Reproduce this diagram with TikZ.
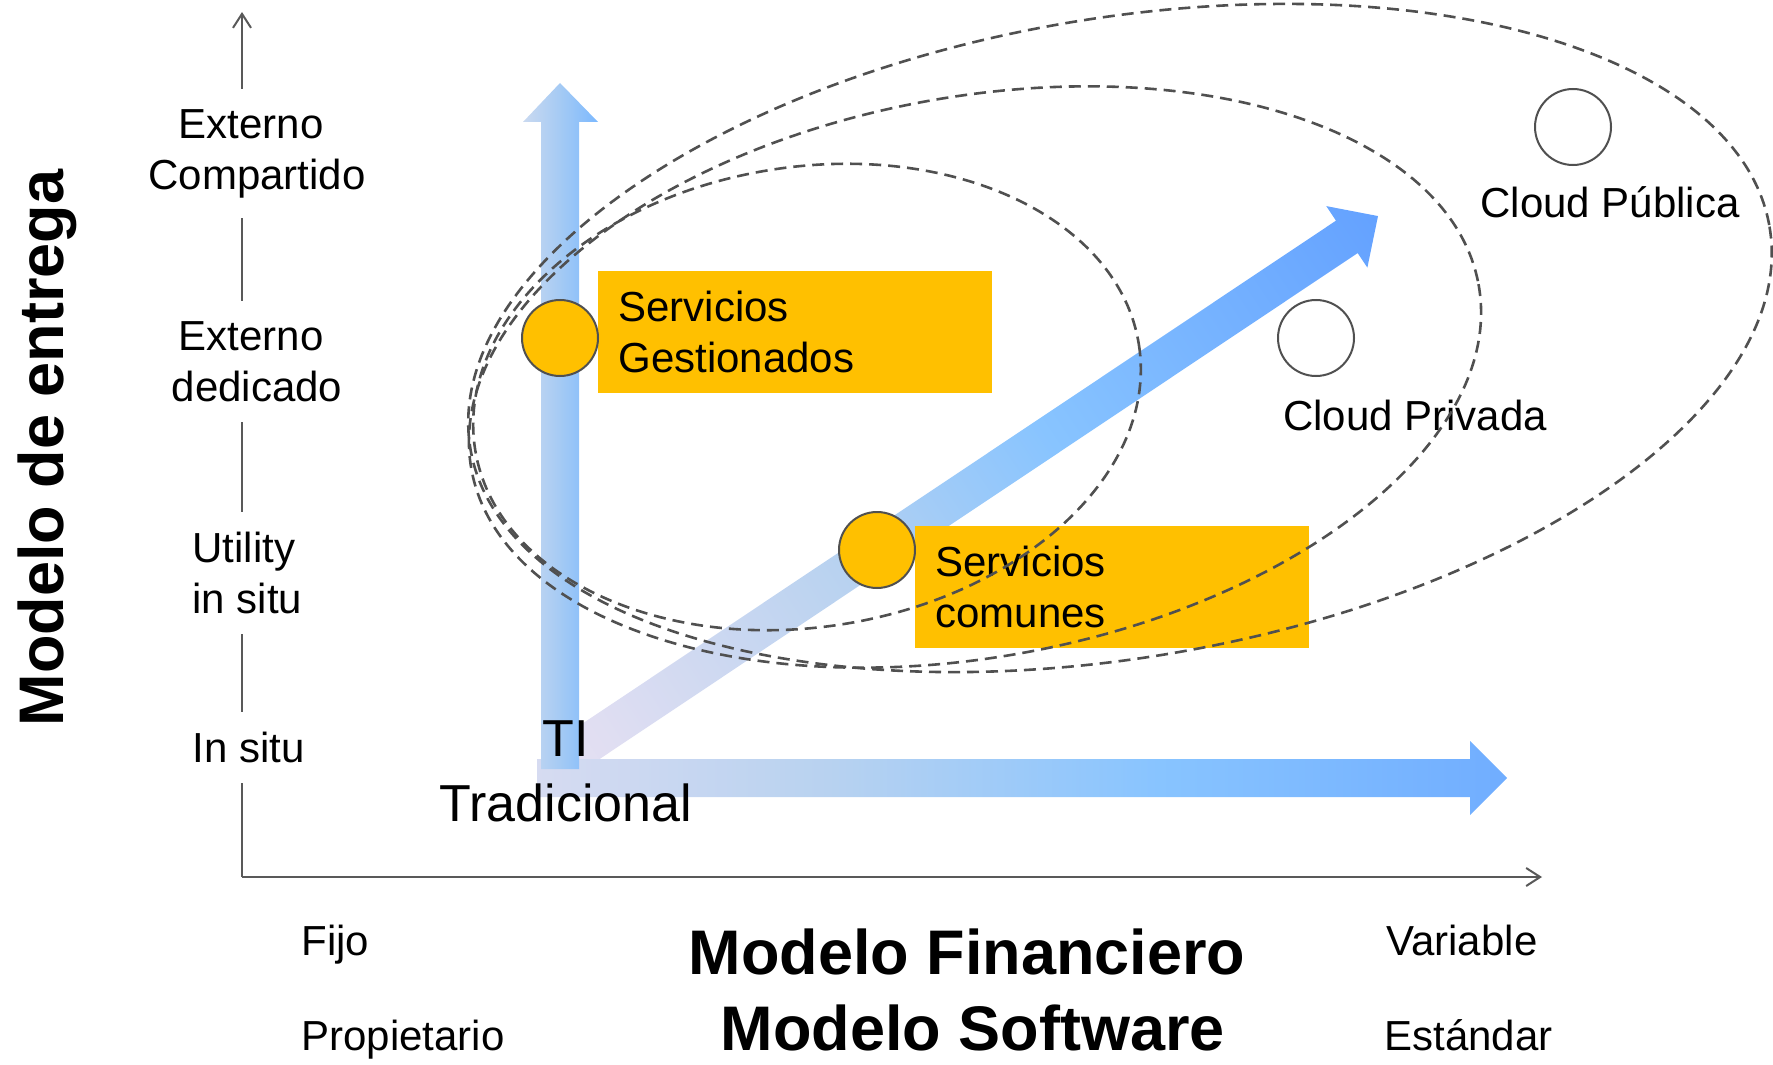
\documentclass[tikz,border=0pt]{standalone}
\usepackage{fontspec}
\setmainfont{Liberation Sans}
\usetikzlibrary{arrows.meta}
\definecolor{gold}{HTML}{FFC000}
\definecolor{axisgray}{HTML}{595959}
\definecolor{linegray}{HTML}{505050}
\definecolor{hcA}{HTML}{F8E6F6}
\definecolor{hcB}{HTML}{E0DEF2}
\definecolor{hcC}{HTML}{B8D2F0}
\definecolor{hcD}{HTML}{88C4FF}
\definecolor{hcE}{HTML}{5A98FF}
\definecolor{vcA}{HTML}{F2E4F4}
\definecolor{vcB}{HTML}{CCDAF0}
\definecolor{vcC}{HTML}{A4CAF4}
\definecolor{vcD}{HTML}{7AB8FF}
\definecolor{vcE}{HTML}{60A0FF}
\pgfdeclarehorizontalshading{harrow}{100bp}{color(0bp)=(hcA); color(20bp)=(hcB); color(40bp)=(hcC); color(57bp)=(hcD); color(92bp)=(hcE); color(100bp)=(hcE)}
\pgfdeclarehorizontalshading{varrow}{100bp}{color(0bp)=(vcA); color(24bp)=(vcB); color(50bp)=(vcC); color(76bp)=(vcD); color(100bp)=(vcE)}
\newcommand\lblfont{\fontsize{21pt}{25.5pt}\selectfont}
\newcommand\titlefont{\fontsize{31.5pt}{38pt}\selectfont\bfseries}
\newcommand\tifont{\fontsize{26pt}{32.5pt}\selectfont}
\begin{document}
\begin{tikzpicture}[x=0.5pt,y=-0.5pt,
  axis/.style={draw=axisgray, line width=1pt},
  axislbl/.style={font=\lblfont, fill=white, inner xsep=2pt, inner ysep=10pt},
  plain/.style={font=\lblfont, inner sep=0pt},
  title/.style={font=\titlefont, inner sep=0pt},
  dot/.style={circle, minimum size=38pt, inner sep=0pt, draw=linegray, line width=1pt},
  golddot/.style={dot, fill=gold},
  whitedot/.style={dot, fill=white},
  svcbox/.style={fill=gold, minimum width=197pt, minimum height=61pt, text width=177pt, inner xsep=10pt, inner ysep=0pt, align=left, font=\lblfont, anchor=north west},
  ell/.style={draw=linegray, line width=1.3pt, dash pattern=on 6pt off 3.5pt}
]
\useasboundingbox (0,0) rectangle (1773,1065);

% diagonal arrow
\begin{scope}[shift={(560,762)}, rotate=33.72]
  \shade[shading=harrow, shading angle=33.72] (0,-19.5) -- (946,-19.5) -- (946,-37) -- (983.5,0) -- (946,37) -- (946,19.5) -- (0,19.5) -- cycle;
\end{scope}
% horizontal arrow
\shade[shading=harrow] (537,759) -- (1470,759) -- (1470,741) -- (1507,778) -- (1470,815) -- (1470,797) -- (537,797) -- cycle;
% vertical arrow
\shade[shading=varrow] (541,769) -- (541,122) -- (523,122) -- (560,83) -- (598,122) -- (579,122) -- (579,769) -- cycle;

% axes
\coordinate (O) at (242,877);
\coordinate (ytip) at (242,12);
\coordinate (xtip) at (1542,877);
\draw[axis, -{Straight Barb[length=7pt,width=9pt]}] (O) -- (ytip);
\draw[axis, -{Straight Barb[length=7pt,width=9pt]}] (O) -- (xtip);

% axis labels
\node[axislbl, align=center, anchor=north] (extcomp) at (257,89) {Externo\hspace*{0.278em}\\Compartido};
\node[axislbl, align=center, anchor=north] (extded) at (257,301) {Externo\hspace*{0.278em}\\dedicado};
\node[axislbl, align=left, anchor=north west] (utility) at (188,512) {Utility\\in situ};
\node[axislbl, anchor=north west] (insitu) at (188,712) {In situ};

\node[plain, anchor=base west] (fijo) at (301,955) {Fijo};
\node[plain, anchor=base west] (propiet) at (301,1050) {Propietario};
\node[plain, anchor=base west] (variable) at (1386,955) {Variable};
\node[plain, anchor=base west] (estandar) at (1384,1050) {Estándar};
\node[title, anchor=base] (finan) at (967,974) {Modelo Financiero};
\node[title, anchor=base] (soft) at (973,1050) {Modelo Software};
\node[title, rotate=90, anchor=base] (entrega) at (63,448) {Modelo de entrega};

% TI tradicional
\node[font=\tifont, align=center, inner sep=0pt, anchor=north] (ti) at (566,720) {TI\\Tradicional};

% boxes
\node[svcbox] (sgbox) at (598,271) {Servicios\\Gestionados};
\node[svcbox] (scbox) at (915,526) {Servicios\\comunes};

% circles
\node[golddot] (sg) at (560,338) {};
\node[golddot] (sc) at (877,550) {};
\node[whitedot] (cpriv) at (1316,338) {};
\node[whitedot] (cpub) at (1573,127) {};

\node[plain, anchor=base] (lpriv) at (1415,430) {Cloud Privada};
\node[plain, anchor=base] (lpub) at (1610,218) {Cloud Pública};

% dashed ellipses
\draw[ell, rotate around={9:(807,397)}] (807,397) ellipse [x radius=336, y radius=230];
\draw[ell, rotate around={10.45:(975,377)}] (975,377) ellipse [x radius=512, y radius=280];
\draw[ell, rotate around={9.73:(1120,338)}] (1120,338) ellipse [x radius=659, y radius=319.5];
\end{tikzpicture}
\end{document}
